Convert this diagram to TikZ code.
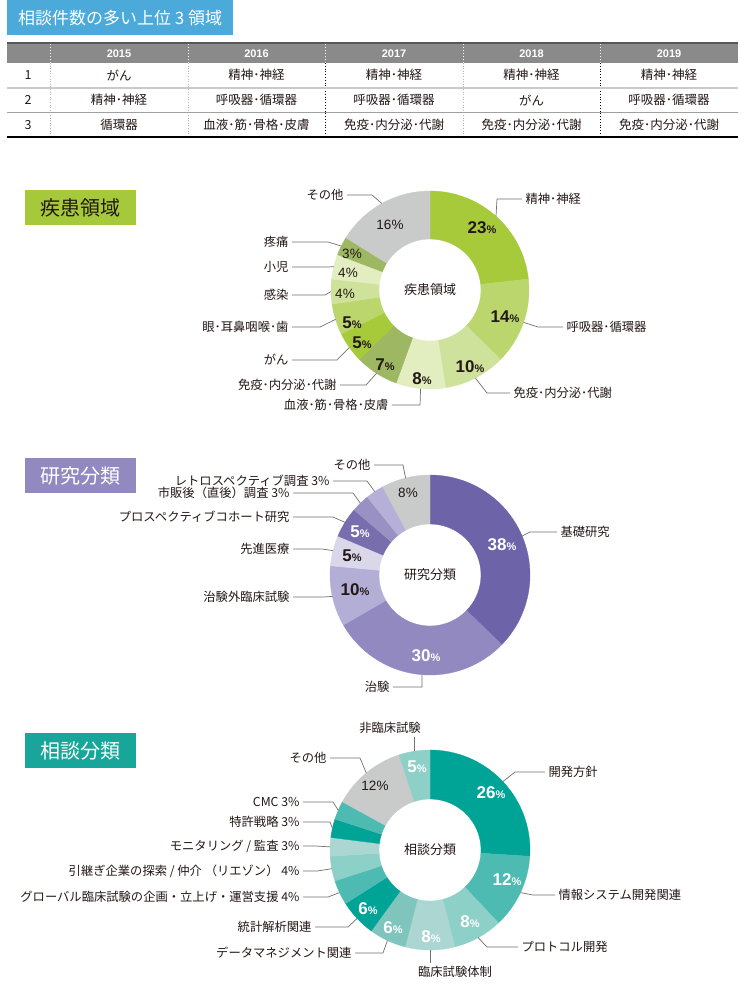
\documentclass[tikz,border=0pt]{standalone}
\usepackage{fontspec}
\setmainfont{Noto Sans CJK JP}
\newfontfamily\numfont{Liberation Sans}
\usepackage{tikz}
\usetikzlibrary{calc,positioning}
\definecolor{titleblue}{HTML}{4CAADA}
\definecolor{headgray}{HTML}{8A8A8A}
\definecolor{tabdark}{HTML}{595757}
\definecolor{lightrule}{HTML}{B5B5B6}
\definecolor{midrule}{HTML}{C9CACA}
\definecolor{thinrule}{HTML}{9FA0A0}
\definecolor{ink}{HTML}{231815}
\definecolor{leadgray}{HTML}{727171}
\definecolor{restgray}{HTML}{C9CACA}
\definecolor{gA}{HTML}{A7CA3A}
\definecolor{gB}{HTML}{BBD66C}
\definecolor{gC}{HTML}{CFE29C}
\definecolor{gD}{HTML}{E2EDC0}
\definecolor{gE}{HTML}{9DB763}
\definecolor{pA}{HTML}{6D63A8}
\definecolor{pB}{HTML}{9189C0}
\definecolor{pC}{HTML}{B3AED6}
\definecolor{pD}{HTML}{DAD7EB}
\definecolor{pE}{HTML}{786EAE}
\definecolor{pF}{HTML}{9991C3}
\definecolor{pG}{HTML}{B6B0D8}
\definecolor{tA}{HTML}{00A497}
\definecolor{tB}{HTML}{4DBBB1}
\definecolor{tC}{HTML}{8DD0C7}
\definecolor{tD}{HTML}{ABD6D2}
\definecolor{tE}{HTML}{7FC5BD}
\definecolor{secgreen}{HTML}{A6C93B}
\definecolor{secpurple}{HTML}{9389C1}
\definecolor{secteal}{HTML}{18A69A}

\newcommand{\pctw}[1]{{\color{white}\numfont\bfseries\fontsize{17}{17}\selectfont #1{\fontsize{11}{11}\selectfont\%}}}
\newcommand{\pctd}[1]{{\color{ink}\numfont\bfseries\fontsize{17}{17}\selectfont #1{\fontsize{11}{11}\selectfont\%}}}
\newcommand{\pctn}[1]{{\color{ink}\numfont\fontsize{13.5}{13.5}\selectfont #1\%}}

\tikzset{
  lead/.style={draw=leadgray, line width=0.7pt},
  lab/.style={text=ink, font=\fontsize{12.3}{12.3}\selectfont, inner sep=1.5pt, outer sep=2pt},
  cell/.style={text=ink, font=\fontsize{12.5}{12.5}\selectfont, inner sep=0pt},
  year/.style={text=white, font=\numfont\bfseries\fontsize{11}{11}\selectfont, inner sep=0pt},
  secbox/.style={minimum width=111pt, minimum height=35pt, inner sep=0pt, font=\fontsize{20}{20}\selectfont},
  hole/.style={text=ink, font=\fontsize{13}{13}\selectfont}
}

\begin{document}
\begin{tikzpicture}[x=1pt, y=-1pt]
	\fill[white] (0,0) rectangle (740,991);
	\useasboundingbox (0,0) rectangle (740,991);
	
	\node[fill=titleblue, text=white, minimum width=226pt, minimum height=35pt, inner sep=0pt, anchor=north west, font=\fontsize{17}{17}\selectfont] (ttl) at (7,0) {相談件数の多い上位 3 領域};
	
	\fill[headgray] (7,44) rectangle (738,63);
	\draw[tabdark, line width=1.5pt] (7,43) -- (738,43);
	\foreach \x in {50,188,325,463,600} \draw[white, line width=1pt, dotted] (\x,44) -- (\x,63);
	\foreach \x in {50,188,463} \draw[lightrule, line width=0.6pt, dotted] (\x,63) -- (\x,137);
	\foreach \x in {325,600} \draw[black, line width=0.8pt, dotted] (\x,63) -- (\x,137);
	\draw[midrule, line width=2.5pt] (7,88) -- (738,88);
	\draw[thinrule, line width=0.7pt] (7,112.5) -- (738,112.5);
	\draw[black, line width=1.3pt] (7,137) -- (738,137);
	\foreach \yr [count=\j] in {2015,2016,2017,2018,2019} {
		\pgfmathsetmacro{\cx}{119+137.5*(\j-1)}
		\node[year] (yr\j) at (\cx,53.5) {\yr};
	}
	\foreach \n/\ya in {1/75,2/100,3/125} \node[cell] (no\n) at (28,\ya) {\n};
	\foreach \txt [count=\k] in {がん,精神･神経,精神･神経,精神･神経,精神･神経} {
		\pgfmathsetmacro{\cx}{119+137.5*(\k-1)}
		\node[cell] (ca\k) at (\cx,75) {\txt};
	}
	\foreach \txt [count=\k] in {精神･神経,呼吸器･循環器,呼吸器･循環器,がん,呼吸器･循環器} {
		\pgfmathsetmacro{\cx}{119+137.5*(\k-1)}
		\node[cell] (cb\k) at (\cx,100) {\txt};
	}
	\foreach \txt [count=\k] in {循環器,血液･筋･骨格･皮膚,免疫･内分泌･代謝,免疫･内分泌･代謝,免疫･内分泌･代謝} {
		\pgfmathsetmacro{\cx}{119+137.5*(\k-1)}
		\node[cell] (cc\k) at (\cx,125) {\txt};
	}
	
	\node[secbox, fill=secgreen, text=ink] (s1) at (80.5,207.5) {疾患領域};
	\coordinate (c1) at (430,290);
	\foreach \fa/\fb/\col in {0/23/gA,23/37/gB,37/47/gC,47/55/gD,55/62/gE,62/67/gA,67/72/gB,72/76/gC,76/80/gD,80/83/gE,83/99/restgray} {
		\pgfmathsetmacro{\sa}{-90+\fa/99*360}
		\pgfmathsetmacro{\ea}{-90+\fb/99*360}
		\filldraw[fill=\col, draw=\col, line width=0.3pt] ($(c1)+(\sa:99)$) arc[start angle=\sa, end angle=\ea, radius=99] -- ($(c1)+(\ea:51)$) arc[start angle=\ea, end angle=\sa, radius=51] -- cycle;
	}
	\node[hole] (m1) at (c1) {疾患領域};
	\foreach \txt/\x/\y [count=\i] in {\pctd{23}/482/228,\pctd{14}/505/317,\pctd{10}/470/367,\pctd{8}/422/379,\pctd{7}/385/365,\pctd{5}/362/343,\pctd{5}/352/323,\pctn{4}/345/294,\pctn{4}/348/273,\pctn{3}/352/254,\pctn{16}/390/225}
		\node[inner sep=0pt] (pa\i) at (\x,\y) {\txt};
	\foreach \mv/\bx/\ex/\ly/\sd/\txt [count=\i] in {11.5/497/522/199/west/精神･神経,30/538/563/327/west/呼吸器･循環器,42/487/510/393/west/免疫･内分泌･代謝,51/420/392/405/east/血液･筋･骨格･皮膚,58.5/366/340/385/east/免疫･内分泌･代謝,64.5/337/292/360/east/がん,69.5/320/292/327/east/眼･耳鼻咽喉･歯,74/325/292/295/east/感染,78/328/292/267/east/小児,81.5/328/292/242/east/疼痛,91/372/347/195/east/その他} {
		\pgfmathsetmacro{\ma}{-90+\mv/99*360}
		\coordinate (ra\i) at ($(c1)+(\ma:99)$);
		\coordinate (ka\i) at (\bx,\ly);
		\node[lab, anchor=\sd] (la\i) at (\ex,\ly) {\txt};
		\draw[lead] (ra\i) -- (ka\i) -- (la\i.\sd);
	}
	
	\node[secbox, fill=secpurple, text=white] (s2) at (80.5,475.5) {研究分類};
	\coordinate (c2) at (430,575);
	\foreach \fa/\fb/\col in {0/38/pA,38/68/pB,68/78/pC,78/83/pD,83/88/pE,88/91/pF,91/94/pG,94/102/restgray} {
		\pgfmathsetmacro{\sa}{-90+\fa/102*360}
		\pgfmathsetmacro{\ea}{-90+\fb/102*360}
		\filldraw[fill=\col, draw=\col, line width=0.3pt] ($(c2)+(\sa:100)$) arc[start angle=\sa, end angle=\ea, radius=100] -- ($(c2)+(\ea:51)$) arc[start angle=\ea, end angle=\sa, radius=51] -- cycle;
	}
	\node[hole] (m2) at (c2) {研究分類};
	\foreach \txt/\x/\y [count=\i] in {\pctw{38}/502/545,\pctw{30}/426/656,\pctd{10}/355/590,\pctd{5}/352/556,\pctw{5}/360/532,\pctn{8}/408/493}
		\node[inner sep=0pt] (pb\i) at (\x,\y) {\txt};
	\foreach \mv/\bx/\ex/\ly/\sd/\txt [count=\i] in {19/530/557/532/west/基礎研究,52.3/422/393/687/east/治験,73/323/293/597/east/治験外臨床試験,80.5/322/293/549/east/先進医療,85.5/333/293/517/east/プロスペクティブコホート研究,89.5/353/293/493/east/市販後（直後）調査 3\%,92.5/367/333/481/east/レトロスペクティブ調査 3\%,98/403/374/465/east/その他} {
		\pgfmathsetmacro{\ma}{-90+\mv/102*360}
		\coordinate (rb\i) at ($(c2)+(\ma:100)$);
		\coordinate (kb\i) at (\bx,\ly);
		\node[lab, anchor=\sd] (lb\i) at (\ex,\ly) {\txt};
		\draw[lead] (rb\i) -- (kb\i) -- (lb\i.\sd);
	}
	
	\node[secbox, fill=secteal, text=white] (s3) at (80.5,750.5) {相談分類};
	\coordinate (c3) at (430,850);
	\foreach \fa/\fb/\col in {0/26/tA,26/38/tB,38/46/tC,46/54/tD,54/60/tE,60/66/tA,66/70/tB,70/74/tC,74/77/tD,77/80/tA,80/83/tB,83/95/restgray,95/100/tC} {
		\pgfmathsetmacro{\sa}{-90+\fa*3.6}
		\pgfmathsetmacro{\ea}{-90+\fb*3.6}
		\filldraw[fill=\col, draw=\col, line width=0.3pt] ($(c3)+(\sa:100)$) arc[start angle=\sa, end angle=\ea, radius=100] -- ($(c3)+(\ea:51)$) arc[start angle=\ea, end angle=\sa, radius=51] -- cycle;
	}
	\node[hole] (m3) at (c3) {相談分類};
	\foreach \txt/\x/\y [count=\i] in {\pctw{26}/491/793,\pctw{12}/507/880,\pctw{8}/470/922,\pctw{8}/431/937,\pctw{6}/393/928,\pctw{6}/368/909,\pctn{12}/375/786,\pctw{5}/417/767}
		\node[inner sep=0pt] (pc\i) at (\x,\y) {\txt};
	\foreach \mv/\bx/\ex/\ly/\sd/\txt [count=\i] in {13/515/545/772/west/開発方針,32/533/555/895/west/情報システム開発関連,42/487/518/947/west/プロトコル開発,57/383/355/953/east/データマネジメント関連,63/348/315/927/east/統計解析関連,68/328/303/897/east/グローバル臨床試験の企画・立上げ・運営支援 4\%,72/317/303/871/east/{引継ぎ企業の探索 / 仲介 （リエゾン） 4\%},75.5/315/303/846/east/{モニタリング / 監査 3\%},78.5/330/303/822/east/特許戦略 3\%,81.5/333/303/802/east/CMC 3\%,89/360/330/758/east/その他} {
		\pgfmathsetmacro{\ma}{-90+\mv*3.6}
		\coordinate (rc\i) at ($(c3)+(\ma:100)$);
		\coordinate (kc\i) at (\bx,\ly);
		\node[lab, anchor=\sd] (lc\i) at (\ex,\ly) {\txt};
		\draw[lead] (rc\i) -- (kc\i) -- (lc\i.\sd);
	}
	\coordinate (rt) at ($(c3)+(90:100)$);
	\node[lab, anchor=north] (lt) at (455,963) {臨床試験体制};
	\draw[lead] (rt) -- (rt |- lt.north);
	\coordinate (rn) at ($(c3)+(261:100)$);
	\node[lab, anchor=south] (ln) at (390,737) {非臨床試験};
	\draw[lead] (rn) -- (rn |- ln.south);
\end{tikzpicture}
\end{document}
